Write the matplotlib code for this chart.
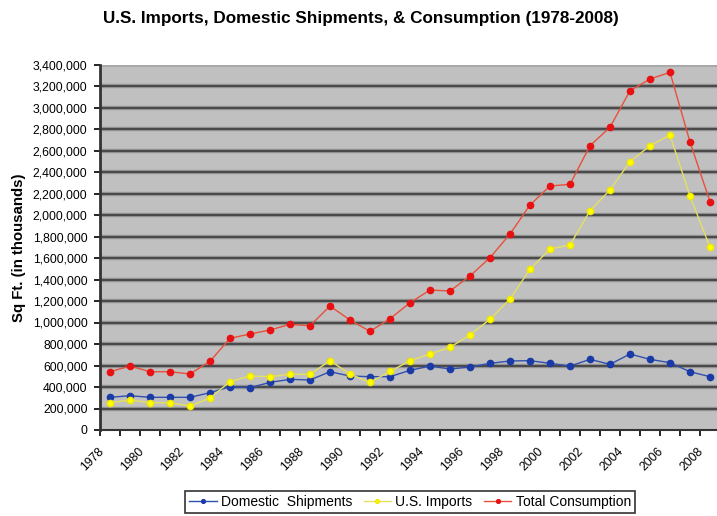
import matplotlib.pyplot as plt
from matplotlib.ticker import FuncFormatter, MultipleLocator, FixedLocator
from matplotlib.transforms import ScaledTranslation

plt.rcParams['font.family'] = ['Liberation Sans', 'DejaVu Sans']

# values in Sq Ft (thousands)
years = list(range(1978, 2009))
domestic = [304, 319, 304, 304, 304, 347, 403, 394, 443, 471, 465, 542, 502, 496, 496, 555,
            595, 567, 586, 620, 642, 645, 620, 595, 657, 611, 707, 657, 626, 542, 496]
imports = [254, 279, 254, 254, 223, 298, 450, 502, 496, 518, 518, 645, 521, 443, 545, 645,
           707, 769, 884, 1030, 1219, 1495, 1684, 1721, 2040, 2233, 2496, 2645, 2744, 2177, 1700]
total = [542, 595, 542, 542, 521, 639, 853, 893, 930, 983, 970, 1153, 1023, 918, 1035, 1184,
         1302, 1293, 1433, 1603, 1823, 2093, 2270, 2285, 2645, 2816, 3156, 3265, 3327, 2679, 2124]
labels = ["Domestic  Shipments", "U.S. Imports", "Total Consumption"]

domestic = [v * 1000 for v in domestic]
imports = [v * 1000 for v in imports]
total = [v * 1000 for v in total]

fig = plt.figure(figsize=(7.17, 5.16), dpi=100)
ax = fig.add_axes([100 / 717, 1 - 430 / 516, 620 / 717, (430 - 64.5) / 516])
ax.set_facecolor('#c0c0c0')

ax.plot(years, domestic, color='#3050b0', lw=1.0, marker='o', ms=4.5,
        mfc='#1a3aa8', mec='#1a3aa8', label=labels[0], zorder=3)
ax.plot(years, imports, color='#e6e060', lw=1.0, marker='o', ms=4.5,
        mfc='#ffff00', mec='#f0e800', label=labels[1], zorder=3)
ax.plot(years, total, color='#e8503a', lw=1.0, marker='o', ms=4.5,
        mfc='#e81010', mec='#e81010', label=labels[2], zorder=3)

ax.set_xlim(1977.5, 2008.5)
ax.set_ylim(0, 3400000)

# gridlines with a light edge, like the old excel look
for v in range(200000, 3400000, 200000):
    ax.axhline(v, color='#9a9a9a', lw=3.2, zorder=1)
    ax.axhline(v, color='#4a4a4a', lw=1.6, zorder=1)
ax.axhline(3400000, color='#a8a8a8', lw=2, zorder=1)

ax.yaxis.set_major_locator(MultipleLocator(200000))
ax.yaxis.set_major_formatter(FuncFormatter(lambda v, p: f"{int(v):,}"))
ax.tick_params(axis='y', direction='out', length=4, width=1.2, labelsize=8.8, pad=5)

ax.xaxis.set_major_locator(FixedLocator([y - 0.5 for y in years] + [2008.5]))
ax.xaxis.set_major_formatter(FuncFormatter(lambda v, p: ""))
ax.xaxis.set_minor_locator(FixedLocator(years[::2]))
ax.xaxis.set_minor_formatter(FuncFormatter(lambda v, p: str(int(round(v)))))
ax.tick_params(axis='x', which='major', direction='out', length=4, width=1.2)
ax.tick_params(axis='x', which='minor', length=0, labelsize=8.8, pad=14)
shift = ScaledTranslation(-8 / 100, 0, fig.dpi_scale_trans)
for t in ax.get_xticklabels(minor=True):
    t.set_rotation(45)
    t.set_ha('right')
    t.set_va('center')
    t.set_rotation_mode('anchor')
    t.set_transform(t.get_transform() + shift)

for s in ['top', 'right']:
    ax.spines[s].set_visible(False)
ax.spines['left'].set_linewidth(2)
ax.spines['left'].set_color('#333333')
ax.spines['bottom'].set_linewidth(1.5)
ax.spines['bottom'].set_color('#333333')

ax.set_ylabel("Sq Ft. (in thousands)", fontsize=10.8, fontweight='bold', labelpad=5)

fig.text(361 / 717, 1 - 18 / 516, "U.S. Imports, Domestic Shipments, & Consumption (1978-2008)",
         ha='center', va='center', fontsize=12.3, fontweight='bold')

leg = fig.legend(loc='center', bbox_to_anchor=(410 / 717, 1 - 502 / 516), ncol=3,
                 fontsize=10, frameon=True, fancybox=False, edgecolor='black',
                 handlelength=2.0, columnspacing=0.8, handletextpad=0.3,
                 borderpad=0.3, markerscale=0.6)
leg.get_frame().set_linewidth(1.2)

fig.savefig("out.png", dpi=100)
